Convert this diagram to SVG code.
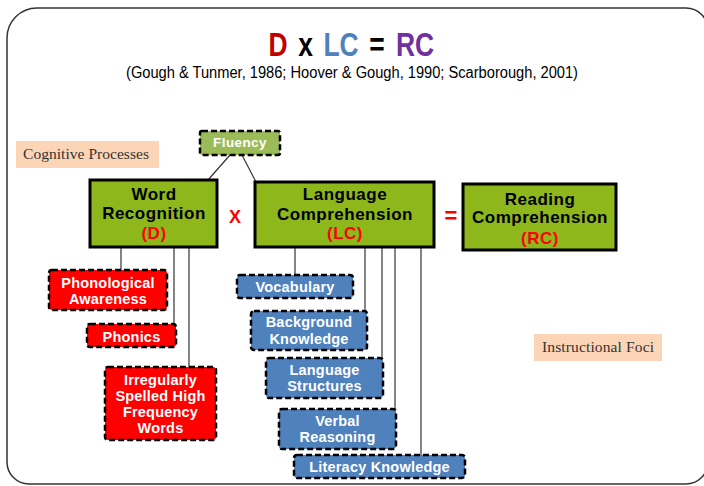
<svg xmlns="http://www.w3.org/2000/svg" width="704" height="486" viewBox="0 0 704 486">
<style>
.bt{font-family:"Liberation Sans",Arial,sans-serif;font-weight:bold;text-anchor:middle}
.big{font-size:17px;letter-spacing:0.5px;fill:#000}
.red{fill:#FF0000}
.sm{font-size:14.5px;letter-spacing:0.2px;fill:#fff}
.ttl{font-family:"Liberation Sans",Arial,sans-serif;font-weight:bold;font-size:33px;text-anchor:middle}
.green{fill:#8DB71B;stroke:#000;stroke-width:3}
.dash{stroke:#000;stroke-width:2.5;stroke-dasharray:6 3}
.rb{fill:#FF0000}
.bb{fill:#4F81BD}
.fl{fill:#9BBB59}
.peach{fill:#FBD5B5}
.serif{font-family:"Liberation Serif","Times New Roman",serif;font-size:15.5px;fill:#333}
#connectors line{stroke:#333;stroke-width:1.2}
</style>
<rect width="704" height="486" fill="#fff"/>
<path d="M7,38 A30,30 0 0 1 37,8 L686,8 A22,22 0 0 1 708,30 L708,462 A22,22 0 0 1 686,484 L29,484 A22,22 0 0 1 7,462 Z" fill="none" stroke="#333" stroke-width="1.5"/>
<g id="title">
<text class="ttl" transform="translate(278,56) scale(0.8,1)" fill="#C00000">D</text>
<text class="ttl" transform="translate(305.5,56) scale(0.8,1)" fill="#000">x</text>
<text class="ttl" transform="translate(341,56) scale(0.8,1)" fill="#4F81BD">LC</text>
<text class="ttl" transform="translate(377,56) scale(0.8,1)" fill="#000">=</text>
<text class="ttl" transform="translate(415,56) scale(0.8,1)" fill="#7030A0">RC</text>
</g>
<text x="352" y="78" font-family="Liberation Sans,Arial,sans-serif" font-size="16" text-anchor="middle" textLength="452" lengthAdjust="spacingAndGlyphs" fill="#000">(Gough &amp; Tunmer, 1986; Hoover &amp; Gough, 1990; Scarborough, 2001)</text>

<g id="connectors">
<line x1="230" y1="155" x2="208" y2="180"/>
<line x1="242" y1="155" x2="256" y2="182"/>
<line x1="121" y1="247" x2="121" y2="270"/>
<line x1="174" y1="247" x2="174" y2="324"/>
<line x1="189" y1="247" x2="189" y2="367"/>
<line x1="295" y1="248" x2="295" y2="275"/>
<line x1="365" y1="248" x2="365" y2="311"/>
<line x1="382" y1="248" x2="382" y2="358"/>
<line x1="395" y1="248" x2="395" y2="409"/>
<line x1="421" y1="248" x2="421" y2="455"/>
</g>

<g id="cognitive">
<rect class="peach" x="16" y="141" width="143" height="27"/>
<text class="serif" x="23" y="159" textLength="126">Cognitive Processes</text>
</g>
<g id="instructional">
<rect class="peach" x="534" y="334" width="128" height="27"/>
<text class="serif" x="542" y="352" textLength="112">Instructional Foci</text>
</g>

<g id="fluency">
<rect class="fl dash" x="200" y="131" width="80" height="24" rx="2"/>
<text class="bt" x="240" y="147" font-size="13.5" letter-spacing="0.4" fill="#fff">Fluency</text>
</g>

<g id="word-recognition">
<rect class="green" x="90" y="180" width="127" height="67"/>
<text class="bt big" x="154" y="200">Word</text>
<text class="bt big" x="154" y="218.5">Recognition</text>
<text class="bt big red" x="154" y="239">(D)</text>
</g>
<text id="times" class="bt red" x="235" y="223" font-size="18">X</text>

<g id="language-comprehension">
<rect class="green" x="255" y="182" width="179" height="65"/>
<text class="bt big" x="345" y="200">Language</text>
<text class="bt big" x="345" y="220">Comprehension</text>
<text class="bt big red" x="345" y="239">(LC)</text>
</g>
<text id="equals" class="bt red" x="451" y="223" font-size="22">=</text>

<g id="reading-comprehension">
<rect class="green" x="463" y="184" width="153" height="66"/>
<text class="bt big" x="540" y="204.5">Reading</text>
<text class="bt big" x="540" y="223">Comprehension</text>
<text class="bt big red" x="540" y="244">(RC)</text>
</g>

<g id="phonological">
<rect class="rb dash" x="49" y="270" width="118" height="40" rx="3"/>
<text class="bt sm" x="108" y="287.5">Phonological</text>
<text class="bt sm" x="108" y="303.5">Awareness</text>
</g>
<g id="phonics">
<rect class="rb dash" x="87" y="324" width="89" height="23" rx="3"/>
<text class="bt sm" x="131.5" y="341.5">Phonics</text>
</g>
<g id="irregular">
<rect class="rb dash" x="105" y="367" width="111" height="73" rx="3"/>
<text class="bt sm" x="160.5" y="384.5">Irregularly</text>
<text class="bt sm" x="160.5" y="400.5">Spelled High</text>
<text class="bt sm" x="160.5" y="416.5">Frequency</text>
<text class="bt sm" x="160.5" y="432.5">Words</text>
</g>

<g id="vocabulary">
<rect class="bb dash" x="237" y="275" width="116" height="23" rx="3"/>
<text class="bt sm" x="295" y="291.5">Vocabulary</text>
</g>
<g id="background">
<rect class="bb dash" x="251" y="311" width="116" height="39" rx="3"/>
<text class="bt sm" x="309" y="327">Background</text>
<text class="bt sm" x="309" y="343.5">Knowledge</text>
</g>
<g id="structures">
<rect class="bb dash" x="266" y="358" width="117" height="40" rx="3"/>
<text class="bt sm" x="324.5" y="374.5">Language</text>
<text class="bt sm" x="324.5" y="391">Structures</text>
</g>
<g id="verbal">
<rect class="bb dash" x="279" y="409" width="117" height="40" rx="3"/>
<text class="bt sm" x="337.5" y="426">Verbal</text>
<text class="bt sm" x="337.5" y="442">Reasoning</text>
</g>
<g id="literacy">
<rect class="bb dash" x="294" y="455" width="171" height="23" rx="3"/>
<text class="bt sm" x="379.5" y="471.5">Literacy Knowledge</text>
</g>
</svg>
